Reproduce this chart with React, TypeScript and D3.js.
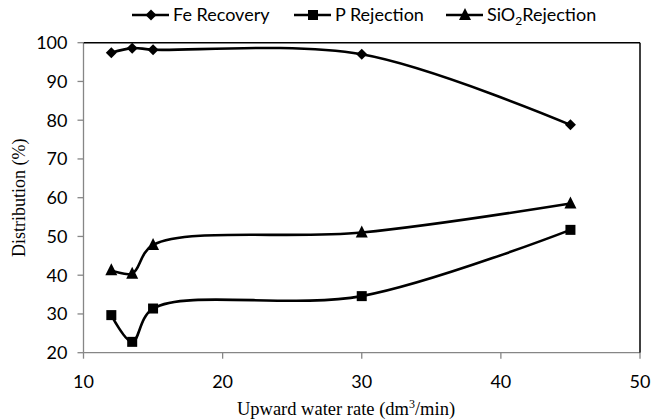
import React from "react";
import * as d3 from "d3";

const rates = [12, 13.5, 15, 30, 45];
const feRecovery = [97.4, 98.6, 98.2, 97.0, 78.8];
const pRejection = [29.7, 22.8, 31.4, 34.6, 51.7];
const sio2Rejection = [41.3, 40.4, 47.8, 51.0, 58.5];
const xTicks = [10, 20, 30, 40, 50];
const yTicks = [20, 30, 40, 50, 60, 70, 80, 90, 100];

const W = 651;
const H = 420;
const L = 83.5, R = 640, T = 42.7, B = 352.7;
const labelFont = "Lato, 'Open Sans', sans-serif";
const serif = "'Liberation Serif', 'DejaVu Serif', serif";

function Marker({ type, x, y }: { type: string; x: number; y: number }) {
  if (type === "diamond") {
    const s = 5.5;
    return <path d={`M${x},${y - s}L${x + s},${y}L${x},${y + s}L${x - s},${y}Z`} fill="#000" />;
  }
  if (type === "square") {
    const s = 5;
    return <rect x={x - s} y={y - s} width={2 * s} height={2 * s} fill="#000" />;
  }
  const s = 6;
  return <path d={`M${x},${y - s - 1}L${x + s},${y + s - 1}L${x - s},${y + s - 1}Z`} fill="#000" />;
}

export default function App() {
  const x = d3.scaleLinear().domain([10, 50]).range([L, R]);
  const y = d3.scaleLinear().domain([20, 100]).range([B, T]);
  const line = d3
    .line<[number, number]>()
    .x((d) => x(d[0]))
    .y((d) => y(d[1]))
    .curve(d3.curveCatmullRom.alpha(0.5));

  const series = [
    { name: "Fe Recovery", values: feRecovery, marker: "diamond", lx: 132 },
    { name: "P Rejection", values: pRejection, marker: "square", lx: 294 },
    { name: "SiO2", values: sio2Rejection, marker: "triangle", lx: 446 },
  ];

  return (
    <svg width={W} height={H} style={{ position: "absolute", left: 0, top: 0, background: "#fff" }}>
      {/* axes */}
      <line x1={L} y1={T} x2={L} y2={B} stroke="#868686" strokeWidth={1.3} />
      <line x1={L} y1={B} x2={R} y2={B} stroke="#868686" strokeWidth={1.3} />
      <line x1={L} y1={T} x2={R} y2={T} stroke="#000" strokeWidth={1.5} />
      <line x1={R} y1={T} x2={R} y2={B} stroke="#000" strokeWidth={1.5} />
      {yTicks.map((t) => (
        <g key={"y" + t}>
          <line x1={L - 6} x2={L} y1={y(t)} y2={y(t)} stroke="#868686" strokeWidth={1.3} />
          <text x={L - 16} y={y(t)} dy="0.36em" textAnchor="end" fontFamily={labelFont} fontSize={18} fill="#000">
            {t}
          </text>
        </g>
      ))}
      {xTicks.map((t) => (
        <g key={"x" + t}>
          <line x1={x(t)} x2={x(t)} y1={B} y2={B + 6} stroke="#868686" strokeWidth={1.3} />
          <text x={x(t)} y={382} dy="0.36em" textAnchor="middle" fontFamily={labelFont} fontSize={18} fill="#000">
            {t}
          </text>
        </g>
      ))}
      <text
        transform={`translate(19,${(T + B) / 2}) rotate(-90)`}
        textAnchor="middle"
        dy="0.35em"
        fontFamily={serif}
        fontSize={18}
        fill="#000"
      >
        Distribution (%)
      </text>
      <text x={346} y={409} dy="0.35em" textAnchor="middle" fontFamily={serif} fontSize={18.5} fill="#000">
        Upward water rate (dm<tspan dy="-7" fontSize={12}>3</tspan>
        <tspan dy="7">/min)</tspan>
      </text>

      {/* series */}
      {series.map((s) => {
        const pts: [number, number][] = rates.map((r, i) => [r, s.values[i]]);
        return (
          <g key={s.name}>
            <path d={line(pts) || ""} fill="none" stroke="#000" strokeWidth={2.6} />
            {pts.map((p, i) => (
              <Marker key={i} type={s.marker} x={x(p[0])} y={y(p[1])} />
            ))}
          </g>
        );
      })}

      {/* legend */}
      {series.map((s) => (
        <g key={"lg" + s.name}>
          <line x1={s.lx} x2={s.lx + 37} y1={15} y2={15} stroke="#000" strokeWidth={2.6} />
          <Marker type={s.marker} x={s.lx + 19} y={15} />
          <text x={s.lx + 41} y={15} dy="0.36em" fontFamily={labelFont} fontSize={18} fill="#000">
            {s.marker === "triangle" ? (
              <>
                SiO<tspan fontSize={12} dy="4">2</tspan>
                <tspan dy="-4">Rejection</tspan>
              </>
            ) : (
              s.name
            )}
          </text>
        </g>
      ))}
    </svg>
  );
}
